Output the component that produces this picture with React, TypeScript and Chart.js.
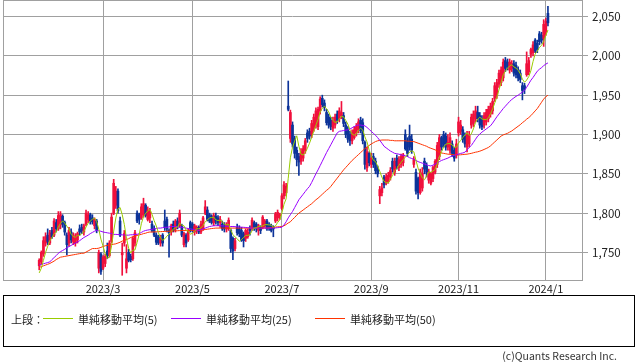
import React, { useEffect, useRef } from "react";
import { Chart, registerables } from "chart.js";

Chart.register(...registerables);

// ---- axis ticks ----
const monthTickIndex = [30, 72, 114, 156, 197, 238];
const monthTickLabels = ["2023/3", "2023/5", "2023/7", "2023/9", "2023/11", "2024/1"];
const priceTicks = [1750, 1800, 1850, 1900, 1950, 2000, 2050];

// ---- daily candles (trading-day index 0 = first visible day) ----
const opens = [
  1733,1738,1748,1762,1772,1762,1778,1772,1788,1780,
  1785,1796,1788,1772,1762,1776,1764,1762,1766,1780,
  1782,1776,1786,1792,1798,1794,1784,1790,1730,1748,
  1730,1736,1752,1746,1764,1800,1810,1828,1790,1747,
  1762,1730,1750,1745,1742,1762,1800,1798,1794,1798,
  1810,1792,1794,1786,1780,1772,1770,1762,1772,1790,
  1792,1778,1776,1786,1780,1790,1784,1783,1760,1772,
  1766,1788,1786,1776,1778,1782,1776,1780,1800,1804,
  1798,1796,1788,1796,1794,1788,1786,1784,1780,1780,
  1778,1768,1755,1782,1780,1778,1774,1768,1770,1780,
  1782,1788,1786,1778,1782,1782,1784,1790,1786,1784,
  1782,1790,1794,1796,1806,1822,1826,1936,1895,1912,
  1895,1880,1872,1866,1870,1880,1902,1904,1900,1908,
  1912,1910,1930,1946,1940,1928,1922,1918,1908,1912,
  1926,1920,1924,1924,1912,1906,1900,1892,1896,1902,
  1906,1918,1915,1890,1858,1876,1862,1872,1866,1856,
  1822,1826,1846,1838,1840,1846,1866,1852,1870,1858,
  1862,1864,1900,1892,1898,1894,1862,1852,1844,1826,
  1832,1866,1860,1842,1838,1844,1852,1862,1872,1896,
  1900,1898,1884,1880,1888,1880,1874,1902,1904,1906,
  1898,1884,1888,1912,1914,1920,1928,1924,1920,1912,
  1916,1920,1926,1930,1946,1950,1964,1966,1972,1994,
  1992,1982,1984,1990,1988,1982,1978,1962,1962,1976,
  1980,2002,2004,2020,2016,2028,2026,2022,2030,2054,
];
const highs = [
  1742,1752,1770,1775,1780,1778,1782,1793,1792,1802,
  1802,1798,1790,1775,1782,1780,1775,1774,1776,1785,
  1786,1786,1804,1802,1800,1798,1794,1792,1753,1750,
  1746,1748,1762,1765,1800,1843,1834,1831,1795,1762,
  1778,1760,1754,1748,1770,1778,1803,1800,1812,1819,
  1812,1808,1806,1790,1784,1775,1772,1772,1774,1804,
  1795,1780,1786,1790,1792,1794,1804,1786,1776,1774,
  1780,1790,1788,1786,1784,1784,1790,1796,1816,1808,
  1800,1798,1800,1800,1797,1796,1790,1788,1788,1794,
  1780,1770,1768,1786,1784,1782,1776,1780,1780,1784,
  1794,1790,1788,1786,1784,1797,1792,1792,1788,1786,
  1784,1801,1804,1800,1825,1840,1838,1968,1931,1916,
  1898,1884,1876,1882,1886,1895,1906,1908,1918,1926,
  1934,1935,1948,1950,1944,1932,1926,1922,1922,1926,
  1930,1934,1942,1928,1916,1910,1904,1906,1910,1914,
  1920,1922,1920,1892,1884,1878,1876,1876,1870,1860,
  1834,1838,1848,1850,1852,1858,1870,1870,1874,1872,
  1875,1876,1906,1896,1912,1900,1872,1856,1846,1856,
  1858,1870,1864,1856,1852,1860,1868,1890,1900,1898,
  1904,1902,1900,1902,1892,1884,1894,1922,1918,1910,
  1902,1904,1904,1926,1930,1936,1936,1928,1924,1928,
  1932,1936,1940,1946,1966,1970,1982,1986,1996,1998,
  1996,1996,1994,1994,1992,1986,1982,1966,1965,2005,
  1998,2010,2018,2022,2020,2031,2030,2046,2048,2063,
];
const lows = [
  1728,1735,1745,1758,1760,1760,1768,1770,1776,1778,
  1780,1782,1772,1747,1758,1762,1760,1758,1762,1772,
  1774,1772,1784,1788,1786,1786,1780,1775,1724,1722,
  1728,1732,1742,1744,1762,1798,1806,1800,1770,1721,
  1758,1724,1738,1738,1740,1758,1788,1786,1792,1795,
  1795,1790,1788,1776,1770,1760,1760,1758,1758,1778,
  1776,1744,1772,1776,1776,1780,1782,1770,1757,1757,
  1764,1776,1776,1772,1774,1774,1774,1778,1798,1790,
  1788,1786,1784,1786,1784,1782,1778,1776,1776,1778,
  1750,1741,1752,1772,1770,1764,1757,1764,1768,1772,
  1778,1778,1776,1772,1774,1780,1782,1778,1778,1776,
  1770,1788,1790,1792,1804,1818,1822,1930,1890,1884,
  1870,1860,1848,1862,1866,1876,1890,1894,1896,1904,
  1908,1906,1926,1935,1930,1912,1908,1906,1904,1908,
  1914,1916,1920,1910,1896,1890,1886,1888,1894,1898,
  1902,1902,1888,1856,1853,1860,1858,1858,1850,1846,
  1812,1822,1832,1836,1838,1842,1852,1848,1856,1854,
  1858,1860,1880,1872,1880,1876,1858,1824,1818,1824,
  1828,1850,1846,1838,1836,1840,1850,1858,1868,1880,
  1884,1880,1880,1876,1872,1866,1870,1898,1900,1890,
  1884,1878,1884,1908,1910,1916,1916,1908,1906,1908,
  1912,1916,1922,1926,1942,1946,1960,1962,1968,1980,
  1982,1978,1980,1974,1972,1968,1966,1944,1952,1974,
  1976,1998,2000,2004,2004,2014,2016,2012,2026,2038,
];
const closes = [
  1740,1750,1765,1770,1764,1775,1770,1790,1780,1797,
  1798,1786,1776,1760,1778,1766,1772,1770,1774,1776,
  1778,1784,1800,1798,1790,1789,1792,1778,1750,1726,
  1744,1745,1746,1762,1795,1838,1828,1803,1772,1750,
  1774,1742,1740,1741,1768,1775,1790,1792,1808,1812,
  1797,1804,1802,1778,1772,1763,1762,1768,1762,1782,
  1780,1775,1784,1778,1790,1784,1800,1772,1774,1762,
  1778,1780,1778,1784,1782,1776,1786,1794,1808,1792,
  1790,1788,1797,1790,1788,1792,1780,1780,1786,1791,
  1755,1752,1765,1775,1774,1766,1765,1778,1776,1778,
  1791,1782,1780,1784,1778,1795,1790,1780,1782,1778,
  1780,1799,1801,1798,1822,1836,1834,1932,1928,1888,
  1876,1868,1865,1878,1882,1892,1895,1898,1914,1922,
  1930,1932,1945,1938,1934,1915,1912,1910,1918,1922,
  1918,1930,1928,1914,1900,1894,1892,1903,1906,1910,
  1916,1905,1892,1862,1878,1864,1870,1862,1854,1850,
  1830,1832,1836,1846,1848,1854,1856,1866,1860,1868,
  1872,1874,1882,1876,1884,1880,1868,1828,1826,1852,
  1850,1856,1852,1852,1850,1858,1866,1886,1896,1884,
  1888,1884,1890,1896,1876,1870,1888,1916,1912,1894,
  1888,1900,1900,1922,1926,1930,1920,1912,1910,1924,
  1928,1932,1936,1942,1962,1966,1978,1982,1992,1984,
  1986,1992,1990,1978,1976,1972,1970,1956,1958,1990,
  1994,2008,2014,2006,2008,2018,2020,2040,2044,2042,
];

// ---- moving averages ----
const ma5 = [
  1724,1730,1740,1750,1757.8,1764.8,1768.8,1773.8,1775.8,1782.4,
  1787,1790.2,1787.4,1783.4,1779.6,1773.2,1770.4,1769.2,1772,1771.6,
  1774,1776.4,1782.4,1787.2,1790,1792.2,1793.8,1789.4,1779.8,1767,
  1758,1748.6,1742.2,1744.6,1758.4,1777.2,1793.8,1805.2,1807.2,1798.2,
  1785.4,1768.2,1755.6,1749.4,1753,1753.2,1762.8,1773.2,1786.6,1795.4,
  1799.8,1802.6,1804.6,1798.6,1790.6,1783.8,1775.4,1768.6,1765.4,1767.4,
  1770.8,1773.4,1776.6,1779.8,1781.4,1782.2,1787.2,1784.8,1784,1778.4,
  1777.2,1773.2,1774.4,1776.4,1780.4,1780,1781.2,1784.4,1789.2,1791.2,
  1794,1794.4,1795,1791.4,1790.6,1791,1789.4,1786,1785.2,1785.8,
  1778.4,1772.8,1769.8,1767.6,1764.2,1766.4,1769,1771.6,1771.8,1772.6,
  1777.6,1781,1781.4,1783,1783,1783.8,1785.4,1785.4,1785,1785,
  1782,1783.8,1788,1791.2,1800,1811.2,1818.2,1844.4,1870.4,1883.6,
  1891.6,1898.4,1885,1875,1873.8,1877,1882.4,1889,1896.2,1904.2,
  1911.8,1919.2,1928.6,1933.4,1935.8,1932.8,1928.8,1921.8,1917.8,1915.4,
  1916,1919.6,1923.2,1922.4,1918,1913.2,1905.6,1900.6,1899,1901,
  1905.4,1908,1905.8,1897,1890.6,1880.2,1873.2,1867.2,1865.6,1860,
  1853.2,1845.6,1840.4,1838.8,1838.4,1843.2,1848,1854,1856.8,1860.8,
  1864.4,1868,1871.2,1874.4,1877.6,1879.2,1878,1867.2,1857.2,1850.8,
  1844.8,1842.4,1847.2,1852.4,1852,1853.6,1855.6,1862.4,1871.2,1878,
  1884,1887.6,1888.4,1888.4,1886.8,1883.2,1884,1889.2,1892.4,1896,
  1899.6,1902,1898.8,1900.8,1907.2,1915.6,1919.6,1922,1919.6,1919.2,
  1918.8,1921.2,1926,1932.4,1940,1947.6,1956.8,1966,1976,1980.4,
  1984.4,1987.2,1988.8,1986,1984.4,1981.6,1977.2,1970.4,1966.4,1969.2,
  1973.6,1981.2,1992.8,2002.4,2006,2010.8,2013.2,2018.4,2026,2032.8,
];
const ma25 = [
  1734,1734.8,1735.6,1736.4,1737.2,1738,1741,1743.5,1746,1749,
  1751,1752.5,1754,1756,1757.5,1759,1760.5,1762,1763.5,1765,
  1767,1769,1770.5,1772,1774,1775.5,1777,1778,1777.5,1777,
  1776,1775.5,1775,1774.5,1774,1773,1773,1772.8,1772.6,1772.4,
  1772.2,1772,1772,1772.5,1772.5,1773,1773,1774,1775.5,1777,
  1778,1778.5,1779,1779.5,1780,1780.5,1781,1781,1781.5,1782,
  1782,1782.5,1783,1783,1783,1782.5,1782,1782,1781.5,1781,
  1780.5,1780,1779.5,1779,1778.5,1778,1779,1780,1781,1782,
  1783,1783.5,1784,1784,1784,1784,1783.8,1783.6,1783.4,1783.2,
  1783,1783,1782.8,1782.6,1782.4,1782.2,1782,1781.8,1781.5,1781.2,
  1781,1781,1781,1781,1781,1781,1781,1781,1781,1781,
  1781,1781.2,1781.5,1781.8,1782,1785,1789,1794,1798,1802,
  1807,1812,1817,1820.5,1824,1827.5,1831,1834,1839,1844.5,
  1850,1855,1860.5,1866,1871.5,1877,1882,1887,1892,1897,
  1902,1904,1904.5,1905,1905.5,1906,1907,1908.5,1910,1911.5,
  1912,1912,1911.5,1911,1909,1906.5,1904,1901.5,1899,1896,
  1892.5,1889,1885,1883,1881,1879,1877.5,1876,1875.5,1875,
  1874,1873.5,1873,1872,1870.5,1869.5,1868.5,1867,1865.5,1864.5,
  1863.5,1862.5,1861.5,1860.5,1860,1861,1862.5,1864,1865.5,1867,
  1868,1869,1870,1871.5,1872.5,1873.5,1874.5,1875,1876,1876.5,
  1877.5,1880.5,1883.5,1886,1890,1894,1898,1900.5,1903,1905,
  1907,1909,1911,1914.5,1918.5,1922.5,1926,1929.5,1933,1936,
  1939,1942,1944.5,1946.5,1948.5,1950,1952,1954,1956,1960,
  1964.5,1969,1972.5,1976.5,1980.5,1983,1985,1987.5,1989.5,1991,
];
const ma50 = [
  1731,1732,1733,1734,1735,1736,1737.5,1739,1741,1742.5,
  1744,1744.5,1745,1745.5,1746,1746.5,1747,1747.5,1748,1748.5,
  1749,1749,1750.5,1752,1753.5,1755,1755,1755,1755.5,1756.5,
  1757.5,1758.5,1759,1759.5,1760,1760.5,1761,1762,1763,1764.5,
  1765.5,1766.5,1767.5,1769,1770,1771,1771.5,1772.5,1773,1774,
  1774.5,1775.5,1776,1776,1776.2,1776.3,1776.4,1776.5,1776.6,1776.8,
  1777,1777,1777.2,1777.4,1777.5,1777.6,1777.8,1778,1778,1778,
  1778,1778,1778,1778,1778,1778,1778.4,1778.8,1779.2,1779.6,
  1780,1780.4,1780.7,1781,1781,1781,1781,1781,1781,1781,
  1781,1781,1781,1781,1781,1781,1781,1781,1781,1781,
  1781,1781,1781,1781,1781,1781,1781,1781,1781.3,1781.6,
  1782,1782.3,1782.6,1782.8,1783,1784,1785.5,1787.5,1789,1792,
  1794.5,1797.5,1800,1802,1804,1806,1808,1810,1812,1814.5,
  1817,1819,1821.5,1824,1826.5,1829,1831,1834,1837.5,1841,
  1844.5,1848,1851.5,1855,1858,1861,1864,1867,1869.5,1872,
  1874.5,1877,1879.5,1882,1884,1886,1888,1889.5,1891,1892,
  1892.5,1893,1893,1893,1893,1892.5,1892.5,1892,1892,1892,
  1892,1892,1892,1891.5,1891.5,1891,1891,1890,1889,1888,
  1887,1886,1885,1883.5,1882.5,1881.5,1880.5,1879,1877.5,1876.5,
  1876,1875.5,1875,1874.8,1874.5,1874.2,1874,1874,1874.2,1874.5,
  1874.8,1875,1875.5,1876,1876.8,1877.5,1878,1878.8,1879.8,1881,
  1882.2,1883.5,1885.5,1888,1890.5,1893,1895.5,1898,1899.5,1900.5,
  1901.5,1903,1904.5,1906.5,1908.5,1910.5,1912.5,1915,1917,1919.5,
  1921.5,1924,1927,1930,1933,1937,1941,1945,1948,1950,
];

const UP = "#f0103c";
const DOWN = "#0c3399";
const GRID = "#a0a0a0";
const FONT = '"Noto Sans CJK JP", "Noto Sans", sans-serif';

const framePlugin = {
  id: "frame",
  afterDatasetsDraw(chart: any) {
    const { ctx, chartArea } = chart;
    const { left, top, right, bottom } = chartArea;
    ctx.save();
    ctx.strokeStyle = GRID;
    ctx.lineWidth = 1;
    ctx.strokeRect(Math.round(left) + 0.5, Math.round(top) + 0.5, Math.round(right - left), Math.round(bottom - top));
    ctx.restore();
  },
};

function CandleChart() {
  const ref = useRef<HTMLCanvasElement | null>(null);
  useEffect(() => {
    if (!ref.current) return;
    const colors = closes.map((c, i) => (c >= opens[i] ? UP : DOWN));
    const bodies = opens.map((o, i) => ({ x: i, y: [Math.min(o, closes[i]), Math.max(o, closes[i])] }));
    const wicks = highs.map((h, i) => ({ x: i, y: [lows[i], h] }));
    const line = (arr: number[]) => arr.map((v, i) => ({ x: i, y: v }));
    const chart = new Chart(ref.current, {
      type: "bar",
      data: {
        datasets: [
          { type: "line", label: "MA5", data: line(ma5), borderColor: "#99cc00", borderWidth: 1, pointRadius: 0, tension: 0, order: 1 } as any,
          { type: "line", label: "MA25", data: line(ma25), borderColor: "#9900ff", borderWidth: 1, pointRadius: 0, tension: 0, order: 1 } as any,
          { type: "line", label: "MA50", data: line(ma50), borderColor: "#ff3300", borderWidth: 1, pointRadius: 0, tension: 0, order: 1 } as any,
          { type: "bar", label: "wick", data: wicks as any, backgroundColor: colors, borderWidth: 0, barThickness: 1, grouped: false, order: 3 } as any,
          { type: "bar", label: "body", data: bodies as any, backgroundColor: colors, borderWidth: 0, barThickness: 2, grouped: false, order: 2 } as any,
        ],
      },
      options: {
        animation: false,
        responsive: false,
        events: [],
        layout: { padding: { left: 3, top: 0, right: 0, bottom: 0 } },
        plugins: { legend: { display: false }, tooltip: { enabled: false } },
        scales: {
          x: {
            type: "linear",
            min: -17,
            max: 255,
            offset: false,
            grid: { color: GRID, lineWidth: 1, drawTicks: false, offset: false },
            border: { display: false },
            afterBuildTicks: (s: any) => {
              s.ticks = monthTickIndex.map((v) => ({ value: v }));
            },
            afterFit: (s: any) => {
              s.height = 20;
              s.paddingLeft = 0;
              s.paddingRight = 0;
            },
            ticks: {
              autoSkip: false,
              maxRotation: 0,
              padding: 2,
              color: "#222",
              font: { size: 11, family: FONT },
              callback: (v: any) => {
                const k = monthTickIndex.indexOf(Number(v));
                return k >= 0 ? monthTickLabels[k] : "";
              },
            },
          },
          y: {
            type: "linear",
            position: "right",
            min: 1715,
            max: 2071,
            grid: { color: GRID, lineWidth: 1, drawTicks: true, tickLength: 6 },
            border: { display: false },
            afterBuildTicks: (s: any) => {
              s.ticks = priceTicks.map((v) => ({ value: v }));
            },
            afterFit: (s: any) => {
              s.width = 56;
              s.paddingTop = 0;
              s.paddingBottom = 0;
            },
            ticks: {
              padding: 4,
              color: "#222",
              font: { size: 11.5, family: FONT },
              callback: (v: any) => Number(v).toLocaleString("en-US"),
            },
          },
        },
      },
      plugins: [framePlugin],
    });
    return () => chart.destroy();
  }, []);
  return <canvas ref={ref} width={638} height={300} style={{ position: "absolute", left: 0, top: 0, width: 638, height: 300 }} />;
}

const legendItems = [
  { label: "単純移動平均(5)", color: "#99cc00", lineLeft: 39, textLeft: 74 },
  { label: "単純移動平均(25)", color: "#9900ff", lineLeft: 167, textLeft: 202 },
  { label: "単純移動平均(50)", color: "#ff3300", lineLeft: 311, textLeft: 346 },
];

export default function App() {
  const textStyle: React.CSSProperties = {
    position: "absolute",
    top: 15,
    fontSize: 11,
    lineHeight: "16px",
    fontFamily: FONT,
    color: "#222",
    whiteSpace: "nowrap",
  };
  return (
    <div style={{ position: "absolute", left: 0, top: 0, width: 638, height: 362, background: "#fff", overflow: "hidden" }}>
      <CandleChart />
      <div
        style={{
          position: "absolute",
          left: 3,
          top: 295,
          width: 632,
          height: 52,
          border: "1px solid #000",
          boxSizing: "border-box",
        }}
      >
        <div style={{ ...textStyle, left: 7 }}>上段：</div>
        {legendItems.map((it) => (
          <React.Fragment key={it.label}>
            <div style={{ position: "absolute", left: it.lineLeft, top: 22, width: 30, height: 1, background: it.color }} />
            <div style={{ ...textStyle, left: it.textLeft }}>{it.label}</div>
          </React.Fragment>
        ))}
      </div>
      <div
        style={{
          position: "absolute",
          right: 21,
          top: 349,
          fontSize: 10.5,
          lineHeight: "14px",
          fontFamily: FONT,
          color: "#333",
          whiteSpace: "nowrap",
        }}
      >
        (c)Quants Research Inc.
      </div>
    </div>
  );
}
